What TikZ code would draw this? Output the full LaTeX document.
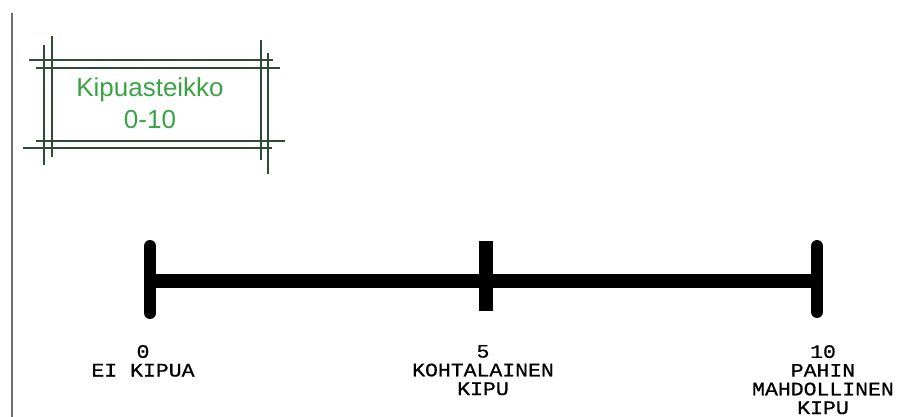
\documentclass[tikz,border=0pt]{standalone}
\usepackage{fontspec}
\setmainfont{Liberation Sans}
\newfontfamily\scalefont[FakeStretch=1.13,FakeBold=0.6]{Liberation Mono}
\definecolor{titlegreen}{RGB}{58,163,70}
\definecolor{framegreen}{RGB}{45,75,55}
\definecolor{sidegray}{RGB}{110,110,110}
\begin{document}
\begin{tikzpicture}[x=1pt,y=-1pt,
  frameline/.style={draw=framegreen,line width=1.8pt},
  scaleline/.style={line width=14pt,black},
  endtick/.style={line width=12pt,line cap=round,black},
  midtick/.style={line width=14pt,black},
  scalelabel/.style={inner sep=0pt,align=center,text=black,
    font=\scalefont\fontsize{19}{18.7}\selectfont},
  titletext/.style={inner sep=0pt,align=center,text=titlegreen,
    font=\fontsize{26}{32}\selectfont}]
\useasboundingbox (0,0) rectangle (898,417);
\fill[white] (0,0) rectangle (898,417);
% left edge line
\coordinate (e1) at (12,13);
\coordinate (e2) at (12,417);
\draw[sidegray,line width=1.4pt] (e1) -- (e2);
% title frame
\coordinate (t1a) at (29,60);  \coordinate (t1b) at (273,60);
\coordinate (t2a) at (36,68);  \coordinate (t2b) at (280,68);
\coordinate (b1a) at (36,141); \coordinate (b1b) at (285,141);
\coordinate (b2a) at (23,148); \coordinate (b2b) at (272,148);
\coordinate (l1a) at (44,45);  \coordinate (l1b) at (44,165);
\coordinate (l2a) at (52,36);  \coordinate (l2b) at (52,157);
\coordinate (r1a) at (261,40); \coordinate (r1b) at (261,160);
\coordinate (r2a) at (268,53); \coordinate (r2b) at (268,174);
\draw[frameline] (t1a) -- (t1b);
\draw[frameline] (t2a) -- (t2b);
\draw[frameline] (b1a) -- (b1b);
\draw[frameline] (b2a) -- (b2b);
\draw[frameline] (l1a) -- (l1b);
\draw[frameline] (l2a) -- (l2b);
\draw[frameline] (r1a) -- (r1b);
\draw[frameline] (r2a) -- (r2b);
\node[titletext,anchor=base] (title) at (150,129) {Kipuasteikko\\0-10};
% scale
\coordinate (s0) at (150,281);
\coordinate (s5) at (486,281);
\coordinate (s10) at (817,281);
\draw[scaleline] (s0) -- (s10);
\coordinate (k0a) at (150,246); \coordinate (k0b) at (150,313);
\coordinate (k5a) at (486,241); \coordinate (k5b) at (486,311);
\coordinate (k10a) at (817,246); \coordinate (k10b) at (817,312);
\draw[endtick] (k0a) -- (k0b);
\draw[midtick] (k5a) -- (k5b);
\draw[endtick] (k10a) -- (k10b);
% labels
\node[scalelabel,anchor=base] (lab0) at (143,376.5) {0\\EI KIPUA};
\node[scalelabel,anchor=base] (lab5) at (483,395) {5\\KOHTALAINEN\\KIPU};
\node[scalelabel,anchor=base] (lab10) at (823,414) {10\\PAHIN\\MAHDOLLINEN\\KIPU};
\end{tikzpicture}
\end{document}
